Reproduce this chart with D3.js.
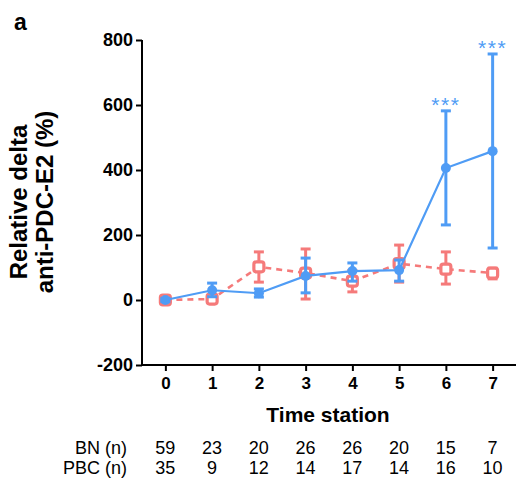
<!DOCTYPE html>
<html>
<head>
<meta charset="utf-8">
<script src="https://cdn.jsdelivr.net/npm/d3@7"></script>
<style>
  body { margin: 0; background: #fff; }
  svg text { font-family: "Liberation Sans", Arial, sans-serif; }
</style>
</head>
<body>
<div id="chart"></div>
<script>
// time stations on the x axis
const stations = [0, 1, 2, 3, 4, 5, 6, 7];
const yTicks = [-200, 0, 200, 400, 600, 800];

// BN group (blue, filled circles, solid line)
const bnMean  = [0, 30, 21, 74, 89, 92, 406, 458];
const bnUpper = [5, 52, 34, 129, 114, 123, 582, 757];
const bnLower = [-5, 10, 9, 22, 58, 58, 231, 160];

// PBC group (red, open squares, dashed line)
const pbcMean  = [0, 3, 102, 83, 58, 112, 95, 83];
const pbcUpper = [8, 10, 148, 157, 91, 169, 148, 98];
const pbcLower = [-8, -4, 55, 3, 25, 55, 49, 65];

// sample sizes under the axis
const bnN  = [59, 23, 20, 26, 26, 20, 15, 7];
const pbcN = [35, 9, 12, 14, 17, 14, 16, 10];

// significance marks
const stars = [{ station: 6, label: "***" }, { station: 7, label: "***" }];

const blue = "#4f9cf5";
const red = "#f57a7a";

const width = 516, height = 480;

const svg = d3.select("#chart")
  .append("svg")
  .attr("width", width)
  .attr("height", height);

let x = d3.scaleLinear().domain([-0.5, 7.5]).range([142, 516]);
let y = d3.scaleLinear().domain([-200, 800]).range([365, 40]);

// y axis (plain hyphen for negatives, like the reference)
let yAxis = svg.append("g")
  .attr("transform", "translate(142,0)")
  .call(d3.axisLeft(y).tickValues(yTicks).tickSize(6).tickPadding(3)
    .tickFormat(function(d) { return String(d); }));
yAxis.selectAll("text")
  .attr("font-size", 18)
  .attr("font-weight", "bold")
  .attr("fill", "#000");

// x axis
let xAxis = svg.append("g")
  .attr("transform", "translate(0,365)")
  .call(d3.axisBottom(x).tickValues(stations).tickSize(6).tickPadding(6).tickSizeOuter(0));
xAxis.selectAll("text")
  .attr("font-size", 17)
  .attr("font-weight", "bold")
  .attr("fill", "#000");

svg.selectAll(".domain, .tick line")
  .attr("stroke", "#000")
  .attr("stroke-width", 2);

yAxis.select(".domain").attr("d", "M0,40V365");
xAxis.select(".domain").attr("d", "M142,0H516");

// axis titles
svg.append("text")
  .attr("x", 328)
  .attr("y", 422)
  .attr("text-anchor", "middle")
  .attr("font-size", 21)
  .attr("font-weight", "bold")
  .text("Time station");

let yTitle = svg.append("text")
  .attr("transform", "translate(0,202) rotate(-90)")
  .attr("text-anchor", "middle")
  .attr("font-size", 24)
  .attr("font-weight", "bold");
yTitle.append("tspan").attr("x", 0).attr("y", 27).text("Relative delta");
yTitle.append("tspan").attr("x", 0).attr("y", 53).text("anti-PDC-E2 (%)");

svg.append("text")
  .attr("x", 14)
  .attr("y", 30)
  .attr("font-size", 23)
  .attr("font-weight", "bold")
  .text("a");

// one group of line + error bars + markers
function drawSeries(mean, upper, lower, color, dashed, marker) {
  let g = svg.append("g");

  g.append("path")
    .datum(stations)
    .attr("fill", "none")
    .attr("stroke", color)
    .attr("stroke-width", dashed ? 2.6 : 2.2)
    .attr("stroke-dasharray", dashed ? "6,5" : null)
    .attr("d", d3.line()
      .x(function(d) { return x(d); })
      .y(function(d, i) { return y(mean[i]); }));

  let bars = g.selectAll(".err")
    .data(stations)
    .enter()
    .append("g");

  bars.append("line")
    .attr("x1", function(d) { return x(d); })
    .attr("x2", function(d) { return x(d); })
    .attr("y1", function(d, i) { return y(upper[i]); })
    .attr("y2", function(d, i) { return y(lower[i]); })
    .attr("stroke", color)
    .attr("stroke-width", 3);

  [upper, lower].forEach(function(arr) {
    bars.append("line")
      .attr("x1", function(d) { return x(d) - 5; })
      .attr("x2", function(d) { return x(d) + 5; })
      .attr("y1", function(d, i) { return y(arr[i]); })
      .attr("y2", function(d, i) { return y(arr[i]); })
      .attr("stroke", color)
      .attr("stroke-width", 3);
  });

  if (marker == "square") {
    g.selectAll(".pt")
      .data(stations)
      .enter()
      .append("rect")
        .attr("x", function(d) { return x(d) - 5; })
        .attr("y", function(d, i) { return y(mean[i]) - 5; })
        .attr("width", 10)
        .attr("height", 10)
        .attr("rx", 2.5)
        .attr("fill", "#fff")
        .attr("stroke", color)
        .attr("stroke-width", 3.2);
  } else {
    g.selectAll(".pt")
      .data(stations)
      .enter()
      .append("circle")
        .attr("cx", function(d) { return x(d); })
        .attr("cy", function(d, i) { return y(mean[i]); })
        .attr("r", 5)
        .attr("fill", color);
  }
}

drawSeries(pbcMean, pbcUpper, pbcLower, red, true, "square");
drawSeries(bnMean, bnUpper, bnLower, blue, false, "circle");

// stars above the BN error bars
svg.selectAll(".star")
  .data(stars)
  .enter()
  .append("text")
    .attr("x", function(d) { return x(d.station); })
    .attr("y", function(d) { return y(bnUpper[d.station]) + 1; })
    .attr("text-anchor", "middle")
    .attr("font-size", 21)
    .attr("letter-spacing", 1.5)
    .attr("fill", blue)
    .text(function(d) { return d.label; });

// n table
let rows = [{ label: "BN (n)", values: bnN, y: 454 }, { label: "PBC (n)", values: pbcN, y: 474 }];
rows.forEach(function(row) {
  svg.append("text")
    .attr("x", 127)
    .attr("y", row.y)
    .attr("text-anchor", "end")
    .attr("font-size", 18)
    .text(row.label);
  svg.selectAll(null)
    .data(row.values)
    .enter()
    .append("text")
      .attr("x", function(d, i) { return x(stations[i]); })
      .attr("y", row.y)
      .attr("text-anchor", "middle")
      .attr("font-size", 18)
      .text(function(d) { return d; });
});
</script>
</body>
</html>
